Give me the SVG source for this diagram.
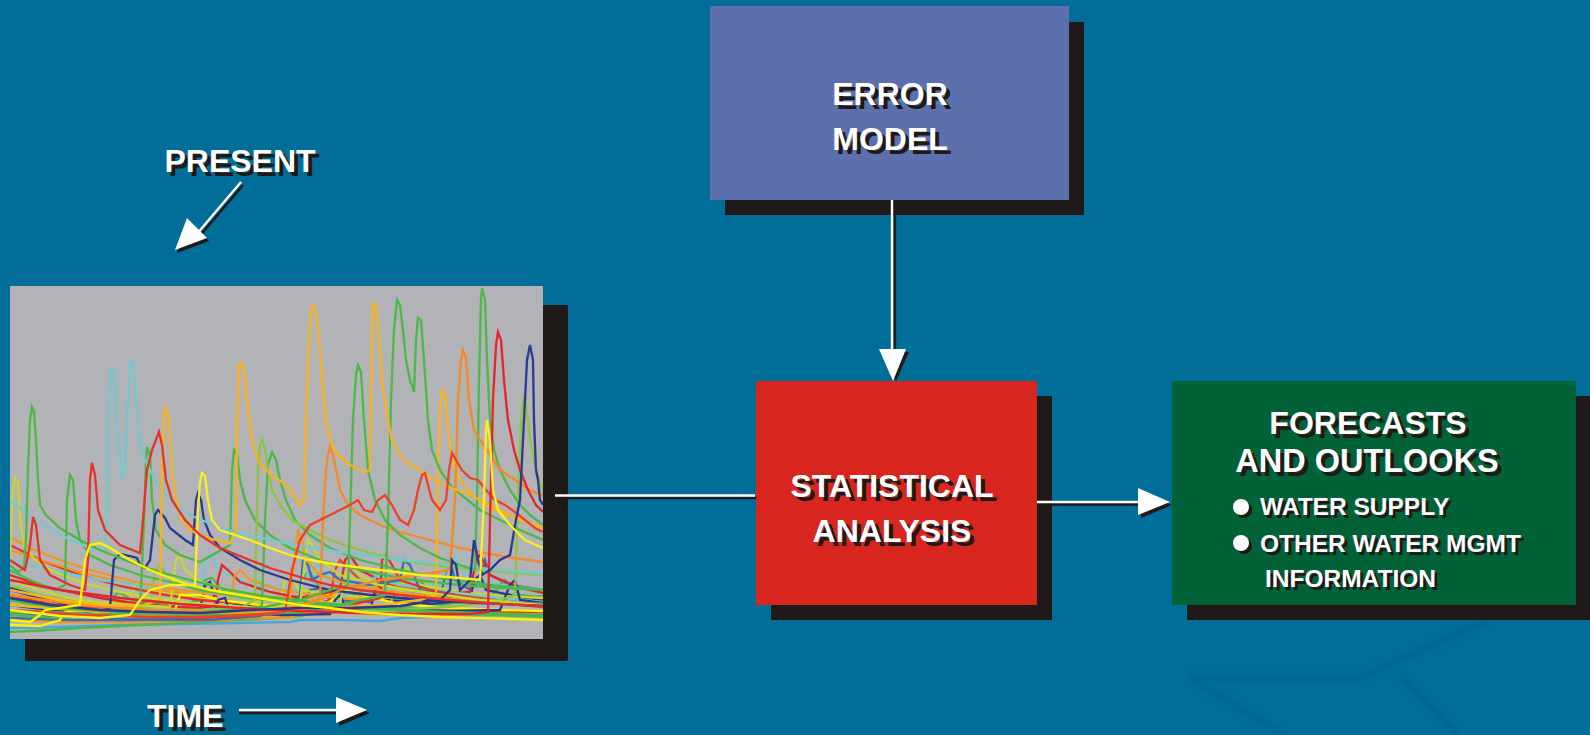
<svg xmlns="http://www.w3.org/2000/svg" width="1590" height="735" viewBox="0 0 1590 735">
  <style>
    .lbl { font-family: "Liberation Sans", Arial, sans-serif; font-weight: bold; }
    .fg { fill: #ffffff; }
    .sh { fill: #1f1a17; }
    .shade { fill: #1f1a17; }
    .trace { fill: none; stroke-width: 2.3; stroke-linejoin: miter; }
    .conn { stroke: #ffffff; stroke-width: 2.4; fill: none; }
    .connsh { stroke: #1f1a17; stroke-width: 2.4; fill: none; }
    .head { fill: #ffffff; }
    .headsh { fill: #1f1a17; }
  </style>
  <defs>
    <clipPath id="plotClip">
      <rect x="10" y="286" width="533" height="353"/>
    </clipPath>
    <filter id="soft" x="-10%" y="-10%" width="120%" height="120%">
      <feGaussianBlur stdDeviation="2.2"/>
    </filter>
  </defs>

  <!-- background -->
  <rect x="0" y="0" width="1590" height="735" fill="#006e98"/>

  <!-- faint emblem in the lower right corner -->
  <g id="emblem" fill="none" stroke="#005f8e" stroke-width="6" opacity="0.5" filter="url(#soft)">
    <path d="M1190,678 L1360,678 L1500,614"/>
    <path d="M1190,678 L1292,740"/>
    <path d="M1400,674 L1462,740"/>
  </g>

  <!-- hydrograph ensemble panel -->
  <g id="hydrograph">
    <rect class="shade" x="25" y="305" width="543" height="356"/>
    <rect x="10" y="286" width="533" height="353" fill="#b1b3b6"/>
    <g clip-path="url(#plotClip)">
      <!-- low-flow traces -->
      <path class="trace" stroke="#4aa5dc" d="M10,628 L60,627 L120,625 L180,624 L240,623 L290,622 L300,620 L340,620 L380,621 L400,618 L450,616 L500,615 L543,615"/>
      <path class="trace" stroke="#4db848" d="M10,632 L50,630 L80,628 L120,626 L160,624 L200,622 L240,620 L280,618 L300,616 L330,610 L380,608 L440,605 L460,602 L480,600 L500,598 L543,596"/>
      <path class="trace" stroke="#f7941d" d="M10,620 L60,622 L120,622 L180,621 L230,620 L240,618 L290,618 L300,612 L305,600 L312,598 L320,612 L380,614 L440,615 L500,613 L543,612"/>
      <path class="trace" stroke="#3b6fb6" d="M10,618 L70,620 L130,620 L190,618 L250,615 L300,612 L310,590 L320,588 L330,600 L370,602 L380,585 L385,582 L395,598 L440,600 L445,575 L450,560 L455,580 L470,590 L480,580 L485,560 L490,575 L510,585 L543,590"/>
      <path class="trace" stroke="#4db848" d="M10,615 L60,618 L110,614 L115,595 L120,592 L130,600 L170,606 L200,600 L205,580 L212,578 L225,592 L260,600 L300,596 L305,575 L310,572 L320,588 L360,595 L410,600 L415,585 L420,582 L440,595 L490,598 L500,585 L505,580 L520,595 L543,598"/>
      <path class="trace" stroke="#73c9cb" d="M10,600 L60,606 L120,608 L180,605 L200,595 L205,560 L210,555 L220,570 L250,585 L300,590 L310,570 L318,565 L330,580 L380,590 L440,585 L450,560 L455,555 L465,575 L500,585 L543,590"/>
      <path class="trace" stroke="#2b3990" d="M10,605 L50,610 L100,612 L160,614 L200,610 L205,585 L210,582 L215,600 L260,608 L330,610 L370,612 L375,590 L380,585 L386,600 L430,604 L470,600 L474,580 L480,575 L486,590 L520,597 L543,600"/>
      <path class="trace" stroke="#8dc63f" d="M10,595 L60,602 L100,606 L150,608 L155,570 L160,565 L170,580 L200,590 L240,598 L290,603 L340,606 L390,608 L395,585 L400,580 L410,595 L450,600 L500,603 L543,606"/>
      <path class="trace" stroke="#c4d82e" d="M10,590 L50,598 L90,604 L130,600 L135,585 L140,582 L150,590 L190,598 L240,603 L280,600 L285,580 L290,578 L300,590 L340,596 L400,598 L405,570 L410,568 L420,585 L460,592 L500,596 L543,598"/>
      <path class="trace" stroke="#ef4123" d="M10,600 L50,605 L100,608 L150,612 L200,614 L250,612 L300,608 L330,600 L335,570 L340,560 L350,570 L360,580 L380,585 L420,590 L470,596 L520,600 L543,602"/>
      <path class="trace" stroke="#e5322a" d="M10,545 L40,560 L80,575 L120,586 L160,594 L200,600 L260,605 L320,608 L400,610 L543,612"/>
      <path class="trace" stroke="#e4262a" d="M10,575 L40,585 L70,592 L100,598 L140,604 L180,607 L200,608 L215,606 L218,580 L222,565 L228,570 L240,582 L270,592 L300,598 L340,590 L345,560 L350,555 L360,570 L390,585 L430,595 L470,592 L476,560 L480,555 L490,575 L520,588 L543,593"/>
      <path class="trace" stroke="#f7941d" d="M10,550 L40,560 L80,572 L120,582 L160,590 L200,596 L230,600 L235,575 L240,570 L250,580 L280,590 L320,596 L360,600 L362,585 L368,580 L380,590 L420,596 L470,600 L543,604"/>
      <path class="trace" stroke="#fff200" d="M10,625 L40,626 L60,620 L65,612 L100,610 L130,612 L160,615 L175,610 L180,595 L200,595 L220,600 L260,605 L300,607 L320,608 L340,595 L345,590 L370,597 L400,604 L450,608 L500,610 L543,611"/>
      <path class="trace" stroke="#73c9cb" d="M10,560 L50,570 L100,580 L150,587 L200,592 L250,598 L300,602 L330,605 L370,580 L380,575 L400,585 L450,592 L500,598 L543,602"/>
      <path class="trace" stroke="#2b3990" d="M10,588 L40,596 L80,603 L120,608 L170,612 L215,614 L218,600 L225,598 L230,612 L280,615 L330,614 L335,600 L340,595 L345,606 L400,610 L450,611 L500,610 L510,585 L515,580 L520,600 L543,603"/>
      <path class="trace" stroke="#c4d82e" d="M10,580 L40,590 L70,598 L100,603 L170,607 L176,560 L180,555 L185,570 L200,582 L240,592 L280,598 L340,604 L345,575 L350,565 L360,575 L380,585 L430,594 L480,600 L543,604"/>
      <path class="trace" stroke="#3b6fb6" d="M10,612 L60,616 L110,619 L160,620 L210,620 L260,616 L290,605 L300,595 L303,560 L308,565 L312,580 L320,575 L330,572 L340,580 L370,585 L400,580 L404,560 L410,565 L420,590 L440,595 L460,600 L500,602 L543,604"/>
      <path class="trace" stroke="#e5322a" d="M10,595 L40,602 L70,608 L100,612 L130,614 L160,616 L200,618 L240,616 L270,614 L290,612 L300,613 L320,612 L380,598 L382,560 L386,555 L392,565 L400,580 L430,590 L470,598 L510,604 L543,607"/>
      <path class="trace" stroke="#f7941d" d="M10,537 L30,548 L60,560 L90,570 L120,578 L150,585 L180,590 L220,594 L260,597 L290,598 L295,555 L298,530 L302,540 L306,560 L320,575 L350,585 L400,593 L460,600 L543,606"/>
      <!-- flood-event traces -->
      <path class="trace" stroke="#4db848" d="M10,612 L100,616 L200,615 L250,612 L262,605 L265,520 L268,465 L272,452 L276,460 L280,480 L286,500 L295,520 L310,535 L330,548 L360,560 L400,570 L440,578 L490,585 L543,590"/>
      <path class="trace" stroke="#8dc63f" d="M10,605 L100,610 L200,612 L300,612 L400,610 L460,606 L500,600 L515,595 L518,500 L521,420 L524,395 L527,413 L530,440 L536,470 L543,490"/>
      <path class="trace" stroke="#c4d82e" d="M10,560 L12,500 L15,478 L18,482 L20,520 L24,545 L35,560 L50,570 L80,582 L110,590 L150,598 L200,604 L260,608 L300,605 L305,560 L308,540 L312,545 L320,560 L340,575 L380,585 L430,593 L480,600 L543,605"/>
      <path class="trace" stroke="#4db848" d="M10,570 L30,580 L55,590 L65,585 L67,500 L70,475 L73,480 L76,520 L80,540 L90,555 L110,565 L140,575 L170,582 L200,590 L250,598 L300,604 L360,608 L420,611 L480,613 L543,615"/>
      <path class="trace" stroke="#4db848" d="M10,600 L50,608 L100,612 L140,610 L144,520 L146,460 L147,447 L150,455 L152,500 L156,530 L165,545 L180,555 L200,562 L230,545 L232,470 L234,450 L237,455 L240,480 L245,500 L255,520 L270,535 L290,548 L320,560 L360,570 L400,578 L450,584 L500,588 L543,590"/>
      <path class="trace" stroke="#8dc63f" d="M10,585 L40,595 L80,603 L120,608 L160,610 L200,610 L240,608 L255,600 L258,470 L260,445 L262,440 L265,448 L268,470 L272,490 L280,505 L292,520 L310,530 L330,540 L360,550 L400,560 L440,566 L480,570 L543,575"/>
      <path class="trace" stroke="#2b3990" d="M10,590 L40,598 L70,606 L100,612 L110,608 L114,560 L120,554 L130,556 L137,558 L140,565 L145,568 L150,560 L155,515 L158,510 L165,518 L170,528 L185,540 L193,545 L196,500 L198,493 L201,500 L204,520 L210,535 L220,548 L240,560 L260,570 L290,580 L330,590 L370,595 L420,600 L480,603 L543,606"/>
      <path class="trace" stroke="#73c9cb" d="M10,500 L30,515 L60,535 L90,548 L105,552 L107,510 L109,400 L111,370 L114,372 L116,410 L119,450 L122,477 L125,470 L127,420 L129,380 L131,360 L134,370 L137,410 L140,440 L145,460 L155,480 L170,500 L190,515 L220,528 L260,538 L300,546 L340,552 L380,557 L420,562 L460,566 L500,570 L543,574"/>
      <path class="trace" stroke="#4db848" d="M10,565 L18,572 L24,568 L26,540 L28,470 L30,420 L32,407 L34,412 L36,440 L38,480 L40,505 L46,515 L60,528 L80,540 L100,550 L130,562 L160,572 L190,580 L230,590 L270,597 L320,603 L370,607 L420,611 L470,614 L543,617"/>
      <path class="trace" stroke="#f58a2b" d="M10,610 L100,615 L200,614 L260,612 L300,606 L320,598 L323,520 L326,470 L328,455 L330,447 L333,455 L336,470 L340,490 L348,505 L360,515 L380,525 L400,532 L430,540 L460,548 L500,556 L543,562"/>
      <path class="trace" stroke="#fbb31d" d="M10,605 L100,612 L200,614 L300,610 L380,605 L420,600 L436,595 L438,480 L440,410 L442,390 L445,395 L448,430 L452,460 L460,480 L472,495 L485,505 L500,512 L520,520 L543,528"/>
      <path class="trace" stroke="#4db848" d="M10,600 L60,608 L120,612 L180,614 L240,615 L300,612 L340,605 L360,600 L385,595 L388,520 L391,400 L394,330 L397,300 L400,305 L403,330 L406,360 L410,380 L414,392 L416,340 L418,318 L421,320 L424,360 L428,420 L432,450 L440,470 L450,485 L465,498 L480,510 L500,520 L520,530 L543,540"/>
      <path class="trace" stroke="#4db848" d="M10,610 L100,615 L200,612 L260,608 L300,600 L330,590 L348,585 L350,520 L353,420 L356,375 L358,365 L361,372 L364,420 L368,470 L375,500 L385,520 L400,535 L420,548 L440,558 L460,565 L475,570 L477,500 L479,380 L481,300 L482,288 L485,300 L487,360 L490,420 L494,450 L500,470 L510,490 L520,505 L530,515 L543,525"/>
      <path class="trace" stroke="#f6891f" d="M10,595 L80,605 L150,610 L220,612 L280,610 L320,600 L340,590 L380,580 L420,575 L450,570 L455,500 L458,400 L461,360 L463,350 L466,358 L469,400 L474,430 L480,440 L490,455 L500,470 L515,480 L530,490 L543,496"/>
      <path class="trace" stroke="#f9b21c" d="M10,590 L60,600 L100,605 L140,606 L160,600 L162,470 L164,415 L166,406 L169,420 L172,470 L176,500 L182,520 L190,530 L200,535 L215,540 L230,543 L236,530 L237,420 L239,365 L242,363 L245,380 L248,410 L252,440 L258,460 L266,470 L275,478 L282,482 L290,490 L300,505 L304,500 L306,420 L309,340 L311,310 L313,305 L316,312 L319,340 L322,380 L326,420 L330,440 L338,455 L350,465 L365,472 L370,470 L371,400 L372,330 L373,303 L376,306 L379,340 L382,380 L386,410 L392,440 L400,455 L410,465 L420,470 L430,478 L440,482 L452,488 L470,495 L490,505 L510,515 L543,528"/>
      <path class="trace" stroke="#ef4123" d="M10,610 L80,615 L150,617 L200,617 L250,615 L285,612 L292,570 L300,540 L310,525 L320,520 L330,515 L340,510 L350,505 L358,500 L364,510 L372,512 L378,500 L385,495 L392,505 L400,520 L408,525 L414,510 L418,490 L422,475 L425,473 L428,485 L432,500 L440,510 L446,500 L449,470 L452,453 L456,460 L462,470 L470,478 L478,480 L486,490 L495,500 L505,505 L515,512 L525,520 L535,528 L543,532"/>
      <path class="trace" stroke="#e4262a" d="M10,580 L60,590 L120,598 L180,604 L240,608 L300,611 L360,613 L420,614 L470,614 L488,612 L490,520 L493,400 L496,345 L498,332 L501,340 L504,380 L508,420 L514,450 L520,470 L528,490 L536,505 L543,512"/>
      <path class="trace" stroke="#2b3990" d="M10,598 L50,605 L100,610 L150,612 L200,613 L250,610 L300,608 L350,608 L400,606 L440,600 L450,590 L452,560 L456,565 L460,590 L470,580 L474,540 L478,560 L482,575 L490,570 L500,560 L510,555 L516,520 L520,500 L524,420 L527,360 L530,345 L533,360 L534,420 L536,470 L538,480 L540,500 L543,505"/>
      <path class="trace" stroke="#fcee21" d="M10,610 L60,616 L100,618 L130,615 L140,600 L150,590 L170,585 L195,585 L198,510 L200,482 L202,473 L205,476 L208,500 L212,520 L220,530 L235,535 L250,540 L270,548 L290,555 L310,560 L340,565 L380,570 L420,575 L460,578 L480,580 L484,500 L486,430 L487,420 L490,440 L493,490 L498,510 L510,525 L525,540 L543,548"/>
      <path class="trace" stroke="#e5322a" d="M10,560 L25,570 L30,545 L33,517 L36,525 L40,560 L50,575 L70,585 L85,590 L88,560 L90,480 L92,463 L95,475 L98,510 L105,530 L120,545 L140,553 L143,520 L147,470 L152,450 L159,432 L162,445 L166,480 L172,500 L185,520 L200,535 L220,548 L245,558 L270,568 L300,577 L330,585 L360,590 L400,595 L450,600 L500,604 L543,606"/>
      <path class="trace" stroke="#fff200" stroke-width="3" d="M10,620 L30,622 L40,615 L45,610 L80,605 L85,560 L90,545 L100,543 L110,548 L130,560 L150,570 L170,578 L190,585 L210,590 L240,595 L270,600 L300,605 L330,608 L360,612 L400,615 L440,617 L480,618 L543,620"/>
    </g>
  </g>

  <!-- time-axis annotations -->
  <g id="present-label">
    <text class="lbl sh" x="244" y="176" font-size="32" text-anchor="middle">PRESENT</text>
    <text class="lbl fg" x="240" y="172" font-size="32" text-anchor="middle">PRESENT</text>
  </g>
  <g id="time-label">
    <text class="lbl sh" x="151" y="731" font-size="32">TIME</text>
    <text class="lbl fg" x="147" y="727" font-size="32">TIME</text>
  </g>

  <!-- ERROR MODEL -->
  <g id="error-model">
    <rect class="shade" x="725" y="22" width="359" height="193"/>
    <rect x="710" y="6" width="359" height="194" fill="#5c70ae"/>
    <text class="lbl sh" x="894" y="109" font-size="32" text-anchor="middle">ERROR</text>
    <text class="lbl fg" x="890" y="105" font-size="32" text-anchor="middle">ERROR</text>
    <text class="lbl sh" x="894" y="154" font-size="32" text-anchor="middle">MODEL</text>
    <text class="lbl fg" x="890" y="150" font-size="32" text-anchor="middle">MODEL</text>
  </g>

  <!-- STATISTICAL ANALYSIS -->
  <g id="statistical-analysis">
    <rect class="shade" x="771" y="396" width="281" height="224"/>
    <rect x="756" y="381" width="281" height="224" fill="#d8251d"/>
    <text class="lbl sh" x="896" y="501" font-size="32" text-anchor="middle">STATISTICAL</text>
    <text class="lbl fg" x="892" y="497" font-size="32" text-anchor="middle">STATISTICAL</text>
    <text class="lbl sh" x="896" y="546" font-size="32" text-anchor="middle">ANALYSIS</text>
    <text class="lbl fg" x="892" y="542" font-size="32" text-anchor="middle">ANALYSIS</text>
  </g>

  <!-- FORECASTS AND OUTLOOKS -->
  <g id="forecasts">
    <rect class="shade" x="1187" y="396" width="403" height="224"/>
    <rect x="1172" y="381" width="404" height="224" fill="#006236"/>
    <text class="lbl sh" x="1372" y="438" font-size="32" text-anchor="middle">FORECASTS</text>
    <text class="lbl fg" x="1368" y="434" font-size="32" text-anchor="middle">FORECASTS</text>
    <text class="lbl sh" x="1371" y="476" font-size="32.5" text-anchor="middle">AND OUTLOOKS</text>
    <text class="lbl fg" x="1367" y="472" font-size="32.5" text-anchor="middle">AND OUTLOOKS</text>
    <circle class="sh" cx="1244" cy="510" r="8"/>
    <circle class="fg" cx="1241" cy="507" r="8"/>
    <circle class="sh" cx="1244" cy="546" r="8"/>
    <circle class="fg" cx="1241" cy="543" r="8"/>
    <text class="lbl sh" x="1263" y="518" font-size="24.5">WATER SUPPLY</text>
    <text class="lbl fg" x="1260" y="515" font-size="24.5">WATER SUPPLY</text>
    <text class="lbl sh" x="1263" y="555" font-size="24.5">OTHER WATER MGMT</text>
    <text class="lbl fg" x="1260" y="552" font-size="24.5">OTHER WATER MGMT</text>
    <text class="lbl sh" x="1268" y="590" font-size="24.5">INFORMATION</text>
    <text class="lbl fg" x="1265" y="587" font-size="24.5">INFORMATION</text>
  </g>

  <!-- connectors -->
  <g id="connectors">
    <!-- PRESENT pointer -->
    <line class="connsh" x1="243" y1="185" x2="198" y2="238"/>
    <polygon class="headsh" points="177,253 189,221 209,241"/>
    <line class="conn" x1="241" y1="182" x2="196" y2="235"/>
    <polygon class="head" points="175,250 187,218 207,238"/>

    <!-- TIME arrow -->
    <line class="connsh" x1="239" y1="713" x2="340" y2="713"/>
    <polygon class="headsh" points="339,700 370,713 339,726"/>
    <line class="conn" x1="239" y1="710" x2="340" y2="710"/>
    <polygon class="head" points="336,697 367,710 336,723"/>

    <!-- hydrograph to statistical analysis -->
    <line class="connsh" x1="555" y1="498" x2="756" y2="498"/>
    <line class="conn" x1="555" y1="495.5" x2="755" y2="495.5"/>

    <!-- error model to statistical analysis -->
    <line class="connsh" x1="895" y1="200" x2="895" y2="352"/>
    <polygon class="headsh" points="882,352 909,352 896,381"/>
    <line class="conn" x1="892" y1="200" x2="892" y2="352"/>
    <polygon class="head" points="879,349 906,349 893,381"/>

    <!-- statistical analysis to forecasts -->
    <line class="connsh" x1="1037" y1="504.5" x2="1140" y2="504.5"/>
    <polygon class="headsh" points="1141,491 1172,505 1141,518"/>
    <line class="conn" x1="1037" y1="502" x2="1140" y2="502"/>
    <polygon class="head" points="1138,488 1170,502 1138,515"/>
  </g>
</svg>
